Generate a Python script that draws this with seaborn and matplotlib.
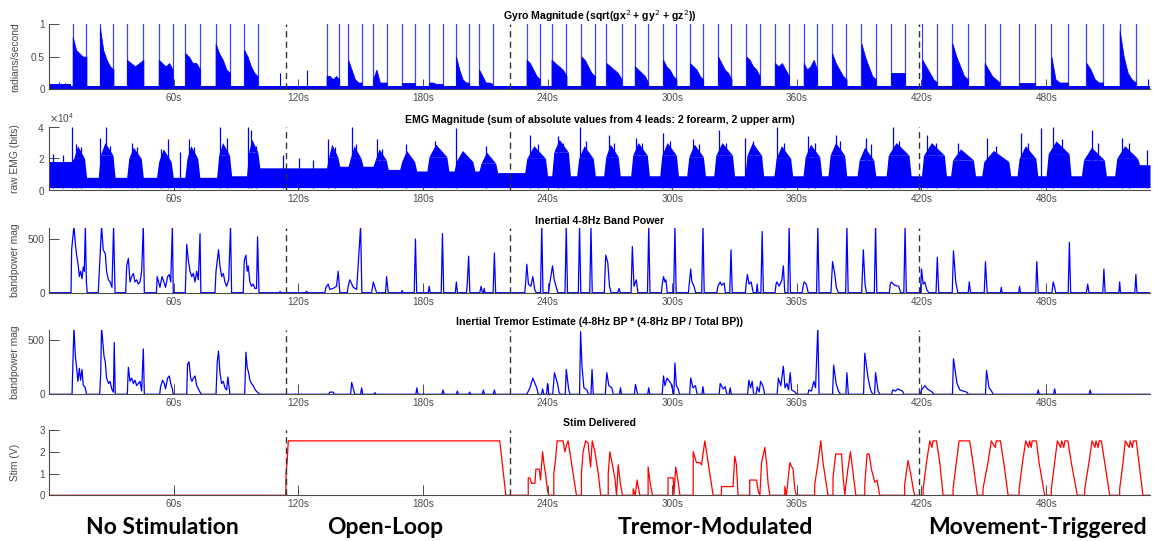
import numpy as np
import pandas as pd
import matplotlib
matplotlib.use("Agg")
import matplotlib.pyplot as plt
import matplotlib.transforms as mtransforms
from matplotlib.ticker import ScalarFormatter
import seaborn as sns

# ------------------------------------------------------------------
# Session data (time in seconds)
# ------------------------------------------------------------------
phase_bounds_s = [114.0, 222.0, 419.0]
phase_names = ["No Stimulation", "Open-Loop", "Tremor-Modulated", "Movement-Triggered"]

time_ticks_s = [60, 120, 180, 240, 300, 360, 420, 480]
time_tick_labels = ["60s", "120s", "180s", "240s", "300s", "360s", "420s", "480s"]

# Gyro magnitude: movement bouts, each opened and closed by a saturating burst,
# with the dense gyro trace level sampled across the bout (rad/s)
gyro_bout_start = [11.4, 24.5, 37.5, 52.8, 65.6, 80.2, 94.0, 133.6, 144.0, 156.0,
                   169.7, 183.0, 195.9, 207.0, 229.9, 241.9, 256.3, 268.3, 282.0, 295.6,
                   308.5, 322.1, 335.7, 349.4, 363.3, 377.0, 391.1, 405.2, 420.4, 434.9,
                   450.4, 466.9, 482.5, 499.4, 515.4]
gyro_bout_end = [18.0, 31.0, 45.4, 59.5, 72.7, 87.1, 100.4, 139.7, 150.5, 162.5,
                 176.1, 189.5, 202.3, 213.5, 236.3, 249.1, 262.7, 275.6, 288.4, 302.0,
                 314.9, 328.5, 342.1, 356.2, 369.7, 383.9, 398.0, 411.9, 427.5, 442.4,
                 457.6, 474.5, 490.5, 507.4, 523.1]
gyro_bout_levels = [
    [0.80, 0.60, 0.55, 0.50, 0.50], [0.95, 0.60, 0.45, 0.35, 0.30],
    [0.45, 0.40, 0.35, 0.40, 0.45], [0.45, 0.40, 0.35, 0.40, 0.30],
    [0.55, 0.50, 0.40, 0.40, 0.30], [0.70, 0.55, 0.45, 0.30, 0.25],
    [0.60, 0.50, 0.35, 0.25, 0.20], [0.20, 0.20, 0.15, 0.20, 0.15],
    [0.45, 0.30, 0.15, 0.10, 0.10], [0.15, 0.30, 0.10, 0.10, 0.10],
    [0.10, 0.10, 0.10, 0.10, 0.10], [0.10, 0.10, 0.08, 0.08, 0.08],
    [0.50, 0.30, 0.15, 0.10, 0.10], [0.30, 0.20, 0.10, 0.10, 0.08],
    [0.45, 0.40, 0.30, 0.20, 0.15], [0.45, 0.40, 0.35, 0.30, 0.20],
    [0.50, 0.45, 0.35, 0.25, 0.20], [0.40, 0.35, 0.30, 0.25, 0.15],
    [0.35, 0.30, 0.25, 0.20, 0.10], [0.45, 0.35, 0.30, 0.20, 0.15],
    [0.40, 0.35, 0.30, 0.20, 0.15], [0.50, 0.40, 0.30, 0.25, 0.15],
    [0.50, 0.45, 0.35, 0.30, 0.20], [0.40, 0.35, 0.40, 0.30, 0.20],
    [0.40, 0.30, 0.35, 0.45, 0.30], [0.55, 0.40, 0.30, 0.20, 0.15],
    [0.70, 0.50, 0.35, 0.20, 0.15], [0.25, 0.25, 0.25, 0.25, 0.25],
    [0.45, 0.35, 0.25, 0.15, 0.10], [0.70, 0.50, 0.35, 0.20, 0.15],
    [0.40, 0.30, 0.20, 0.15, 0.10], [0.10, 0.10, 0.10, 0.10, 0.10],
    [0.50, 0.15, 0.10, 0.10, 0.10], [0.40, 0.30, 0.15, 0.10, 0.10],
    [0.90, 0.50, 0.25, 0.15, 0.10],
]
gyro_burst_peak = 1.2          # saturating bursts run past the 1 rad/s axis limit
gyro_rest_t = [0.0, 10.6, 10.6, 530.0]
gyro_rest_v = [0.07, 0.07, 0.04, 0.04]
gyro_blip_t = [5.0, 7.5, 111.2, 124.0, 528.9]
gyro_blip_v = [0.11, 0.10, 0.25, 0.30, 0.15]

# EMG magnitude (x1e4 bits): muscle bursts (dense core and ragged peak)
# and the resting band between them
emg_burst_start = [10.9, 23.7, 37.4, 51.8, 65.4, 80.7, 95.1, 133.6, 144.0, 156.0,
                   168.8, 181.9, 195.0, 207.0, 229.0, 242.0, 254.0, 267.0, 280.0, 294.0,
                   307.0, 320.0, 335.0, 349.0, 363.0, 375.0, 389.0, 403.0, 420.0, 434.0,
                   449.0, 466.0, 480.0, 497.0, 513.0]
emg_burst_end = [18.1, 31.8, 45.4, 59.8, 72.6, 87.9, 101.5, 140.0, 151.2, 163.3,
                 177.0, 192.5, 205.0, 216.0, 240.0, 251.0, 263.0, 275.0, 289.0, 303.0,
                 316.0, 330.0, 344.0, 358.0, 372.0, 384.0, 398.0, 415.0, 432.0, 446.0,
                 463.0, 476.0, 492.0, 509.0, 525.0]
emg_burst_core_x1e4 = [2.0, 2.2, 2.0, 1.8, 2.0, 2.2, 2.4, 2.1, 2.0, 1.9,
                       1.8, 2.1, 1.8, 1.7, 2.0, 2.4, 2.0, 2.1, 2.2, 2.2,
                       2.1, 2.2, 2.2, 2.0, 2.1, 2.2, 1.9, 2.2, 2.2, 1.9,
                       1.8, 2.0, 2.3, 1.9, 2.0]
emg_burst_peak_x1e4 = [2.8, 3.0, 2.7, 2.6, 2.8, 3.0, 3.2, 2.9, 2.8, 2.6,
                       2.5, 2.9, 2.5, 2.4, 2.8, 3.2, 2.8, 2.9, 3.0, 3.0,
                       2.9, 3.0, 3.0, 2.8, 2.9, 3.0, 2.7, 3.0, 3.0, 2.6,
                       2.5, 2.8, 3.1, 2.7, 2.8]
emg_gap_level_x1e4 = [1.8, 0.8, 0.8, 0.8, 0.8, 0.8, 0.9, 1.4, 1.5, 1.5,
                      1.3, 1.2, 1.2, 1.2, 1.1, 0.9, 0.9, 0.9, 0.9, 0.9,
                      0.9, 0.9, 0.9, 0.9, 0.9, 0.9, 0.9, 0.9, 0.9, 0.9,
                      0.9, 0.9, 0.9, 0.9, 0.9, 1.6]
emg_floor_x1e4 = 0.15
emg_spike_t = [2.0, 6.5, 11.2, 13.0, 15.5, 24.5, 27.4, 29.5, 39.8, 42.5, 54.0, 57.1, 63.0,
               67.5, 70.0, 82.3, 85.5, 95.9, 97.1, 99.5, 112.8, 120.5, 127.0, 134.4, 137.5,
               145.7, 148.0, 157.7, 160.5, 172.0, 186.0, 196.1, 210.5, 231.7, 235.5, 244.8,
               247.5, 255.4, 258.5, 269.7, 272.0, 282.7, 285.5, 295.8, 299.0, 310.0, 313.0,
               322.6, 326.0, 335.0, 339.0, 350.4, 354.0, 365.4, 368.5, 378.9, 381.0, 393.1,
               395.5, 406.2, 409.0, 422.8, 427.0, 437.5, 451.3, 456.0, 467.9, 471.5, 477.6,
               483.4, 487.5, 502.3, 505.0, 516.6, 520.0, 528.5]
emg_spike_x1e4 = [2.3, 2.2, 4.0, 2.9, 2.7, 3.3, 4.0, 2.8, 3.0, 2.7, 2.6, 3.2, 2.4,
                  3.2, 2.7, 4.0, 3.3, 4.0, 3.8, 2.8, 2.2, 2.0, 1.9, 3.2, 2.7,
                  4.0, 2.9, 3.2, 2.6, 2.9, 3.1, 3.9, 2.8, 3.5, 2.9, 3.4,
                  3.0, 4.0, 3.1, 3.5, 3.0, 3.3, 3.0, 3.6, 3.1, 3.2, 2.9,
                  3.8, 3.0, 3.3, 3.1, 4.0, 3.0, 3.4, 3.0, 3.5, 3.1, 3.3,
                  2.9, 4.0, 3.1, 3.5, 3.0, 3.0, 3.3, 2.8, 3.6, 3.0, 3.9,
                  4.0, 3.2, 3.8, 3.0, 3.3, 3.0, 2.5]

# Inertial 4-8 Hz band power (time s, magnitude)
bandpower_pts = [
    (0, 0), (10.6, 0), (10.9, 400), (11.4, 500), (12.0, 620), (12.7, 450), (13.3, 350), (14.1, 250),
    (14.6, 150), (15.2, 200), (15.9, 130), (16.5, 240), (17.0, 200), (17.5, 620), (18.0, 100), (18.4, 0),
    (23.7, 0), (24.1, 150), (24.5, 300), (25.3, 620), (26.1, 400), (27.1, 365), (27.7, 200), (28.6, 120),
    (29.4, 100), (30.3, 50), (31.1, 620), (31.8, 0),
    (36.9, 0), (37.4, 250), (38.2, 320), (39.0, 100), (39.8, 150), (40.6, 180), (41.4, 100), (42.2, 120),
    (43.0, 80), (43.8, 100), (44.6, 200), (45.4, 620), (45.9, 0),
    (51.7, 0), (52.1, 150), (53.4, 50), (54.4, 150), (55.3, 100), (56.1, 50), (57.1, 150), (57.9, 170),
    (58.6, 100), (59.4, 620), (59.8, 0),
    (65.6, 0), (66.3, 450), (67.1, 300), (67.9, 200), (68.7, 150), (69.5, 180), (70.3, 100), (71.1, 200),
    (71.9, 120), (72.7, 550), (73.1, 0),
    (79.9, 0), (80.4, 200), (81.0, 300), (81.6, 400), (82.3, 250), (83.1, 150), (83.9, 180), (84.7, 100),
    (85.5, 60), (86.5, 120), (87.4, 620), (87.9, 0),
    (93.5, 0), (94.0, 300), (94.8, 350), (95.4, 200), (95.9, 250), (96.7, 100), (97.5, 60), (98.3, 80),
    (99.1, 40), (99.9, 40), (100.4, 520), (101.1, 0),
    (110.8, 0), (111.2, 10), (111.6, 0), (123.6, 0), (124.0, 15), (124.4, 0),
    (132.8, 0), (133.3, 50), (134.4, 80), (135.2, 30), (136.8, 40), (138.4, 60), (139.2, 200), (140.0, 0),
    (143.6, 0), (144.0, 60), (144.8, 120), (146.5, 50), (148.1, 30), (150.0, 620), (150.6, 0),
    (155.3, 0), (156.1, 100), (156.9, 50), (157.7, 0), (162.0, 0), (162.5, 150), (163.3, 0),
    (169.6, 0), (170.0, 20), (170.4, 0), (175.8, 0), (176.4, 500), (177.0, 0),
    (182.6, 0), (183.0, 60), (183.5, 0), (188.8, 0), (189.4, 550), (190.0, 0),
    (195.6, 0), (196.1, 100), (196.6, 0), (201.0, 0), (201.4, 100), (202.0, 340), (202.6, 0),
    (207.4, 0), (208.0, 60), (208.6, 0), (209.1, 0), (209.5, 40), (209.9, 0),
    (213.8, 0), (214.4, 370), (215.0, 0),
    (229.0, 0), (229.5, 100), (230.0, 265), (230.8, 80), (232.0, 60), (232.9, 150), (233.8, 30), (234.5, 0),
    (236.6, 0), (237.2, 620), (237.8, 0),
    (240.5, 0), (241.0, 80), (242.4, 250), (243.2, 120), (244.5, 30), (245.0, 0), (248.4, 0), (249.0, 620), (249.6, 0),
    (254.8, 0), (255.4, 620), (256.0, 0), (260.3, 0), (260.9, 620), (261.5, 0),
    (267.3, 0), (268.0, 350), (269.0, 280), (269.8, 60), (270.6, 0), (273.8, 0), (274.4, 40), (275.0, 0),
    (280.2, 0), (280.8, 430), (281.6, 60), (282.7, 120), (283.5, 0), (288.1, 0), (288.7, 620), (289.3, 0),
    (294.8, 0), (295.2, 80), (295.8, 150), (296.5, 100), (297.0, 120), (297.6, 0), (300.7, 0), (301.3, 620), (301.9, 0),
    (307.8, 0), (308.3, 100), (308.9, 220), (309.5, 100), (310.5, 60), (311.3, 0), (314.2, 0), (314.8, 620), (315.4, 0),
    (321.5, 0), (322.0, 60), (323.1, 100), (323.8, 70), (325.0, 90), (325.6, 0), (327.7, 0), (328.3, 400), (328.9, 0),
    (335.2, 0), (335.7, 100), (336.2, 170), (337.0, 80), (338.0, 100), (339.0, 0), (340.5, 0), (340.9, 80), (341.3, 0),
    (342.7, 0), (343.3, 570), (343.9, 0),
    (349.5, 0), (350.0, 80), (350.4, 100), (351.5, 60), (352.8, 120), (353.5, 250), (354.2, 0), (355.7, 0), (356.3, 620), (356.9, 0),
    (362.5, 0), (363.0, 60), (363.5, 100), (364.5, 80), (365.5, 0), (369.5, 0), (370.1, 620), (370.7, 0),
    (376.4, 0), (377.2, 290), (378.2, 180), (379.0, 50), (380.0, 0), (383.5, 0), (384.1, 620), (384.7, 0),
    (391.2, 0), (392.0, 400), (392.8, 80), (393.5, 0), (397.3, 0), (397.9, 620), (398.5, 0),
    (404.5, 0), (405.0, 80), (405.5, 100), (407.0, 70), (409.0, 60), (410.0, 0), (411.5, 0), (412.1, 620), (412.7, 0),
    (419.5, 0), (420.0, 220), (420.8, 80), (421.6, 100), (422.5, 30), (423.5, 0), (427.0, 0), (427.6, 330), (428.3, 0),
    (434.8, 0), (435.4, 390), (436.5, 100), (437.5, 0), (442.5, 0), (443.0, 100), (443.6, 0),
    (450.2, 0), (450.8, 290), (451.6, 0), (458.0, 0), (458.4, 50), (458.8, 0),
    (466.8, 0), (467.2, 60), (467.6, 0), (475.0, 0), (475.5, 290), (476.2, 0),
    (482.8, 0), (483.4, 100), (484.0, 60), (484.6, 0),
    (490.6, 0), (491.2, 470), (491.8, 0), (499.4, 0), (500.0, 80), (500.6, 0), (507.3, 0), (507.8, 220), (508.4, 0),
    (515.0, 0), (515.4, 100), (515.8, 0), (522.7, 0), (523.2, 170), (523.7, 0), (530.0, 0),
]

# Inertial tremor estimate (time s, magnitude)
tremor_pts = [
    (0, 0), (11.1, 0), (11.4, 220), (12.0, 620), (12.7, 350), (13.3, 250), (13.9, 120), (14.6, 240),
    (15.2, 130), (15.9, 230), (16.5, 80), (17.3, 70), (18.1, 0),
    (24.4, 0), (24.9, 200), (25.3, 620), (26.5, 350), (27.1, 300), (27.7, 150), (28.7, 100), (29.4, 120),
    (30.2, 50), (31.0, 20), (31.4, 480), (31.9, 0),
    (37.7, 0), (38.2, 250), (39.0, 120), (39.8, 150), (40.6, 100), (41.4, 130), (42.2, 80), (43.0, 100),
    (43.8, 120), (44.6, 30), (45.4, 420), (45.9, 0),
    (53.3, 0), (53.7, 70), (54.7, 130), (55.5, 100), (56.1, 50), (57.1, 150), (57.9, 170), (58.6, 100),
    (59.4, 50), (59.8, 0),
    (66.3, 0), (66.7, 280), (67.4, 300), (68.2, 150), (68.8, 120), (69.5, 150), (70.3, 170), (71.1, 80),
    (71.9, 50), (72.7, 20), (73.5, 0),
    (80.4, 0), (81.0, 300), (81.6, 400), (82.3, 200), (83.1, 100), (83.9, 120), (84.7, 60), (85.5, 40),
    (86.1, 160), (87.1, 0),
    (94.2, 0), (94.8, 390), (95.4, 250), (96.1, 200), (96.7, 130), (97.5, 100), (98.3, 80), (99.3, 40),
    (100.3, 20), (101.5, 0),
    (134.6, 0), (135.2, 20), (136.8, 20), (137.4, 0), (145.2, 0), (145.7, 110), (146.5, 50), (147.2, 0),
    (150.0, 0), (150.5, 60), (151.0, 0), (156.4, 0), (156.9, 15), (157.4, 0),
    (176.6, 0), (177.1, 60), (177.6, 0), (189.2, 0), (189.7, 40), (190.2, 0), (196.1, 0), (196.6, 30), (197.1, 0),
    (202.0, 0), (202.5, 20), (203.0, 0), (208.6, 0), (209.1, 40), (209.6, 0), (213.9, 0), (214.4, 40), (214.9, 0),
    (230.0, 0), (230.5, 20), (231.5, 60), (232.9, 150), (234.8, 60), (235.5, 0), (237.1, 0), (237.6, 50), (238.2, 0),
    (239.5, 0), (240.0, 100), (240.6, 0), (242.5, 0), (243.3, 200), (244.8, 100), (245.5, 20), (246.2, 0),
    (248.5, 0), (249.0, 230), (250.2, 40), (250.8, 0),
    (255.4, 0), (255.9, 580), (256.6, 250), (257.5, 60), (259.0, 40), (259.6, 0), (260.9, 0), (261.4, 230), (262.0, 0),
    (267.8, 0), (268.5, 200), (269.5, 80), (270.9, 60), (271.6, 0), (274.6, 0), (275.1, 60), (275.6, 0),
    (281.8, 0), (282.3, 90), (282.7, 60), (283.3, 0), (288.2, 0), (288.7, 60), (289.2, 0),
    (295.2, 0), (295.8, 170), (296.5, 80), (297.5, 150), (299.4, 100), (300.8, 0), (301.3, 290), (302.0, 80),
    (302.9, 50), (303.5, 0),
    (308.4, 0), (308.9, 150), (310.0, 60), (311.2, 80), (312.0, 0), (314.3, 0), (314.8, 70), (315.3, 0),
    (322.6, 0), (323.1, 100), (324.5, 50), (325.5, 70), (326.3, 0), (327.4, 0), (327.9, 60), (328.4, 0),
    (336.3, 0), (336.9, 130), (337.7, 60), (338.5, 120), (339.2, 0), (340.4, 0), (340.9, 70), (341.8, 20),
    (342.6, 120), (343.8, 70), (344.5, 0),
    (350.5, 0), (351.1, 150), (352.3, 80), (353.5, 260), (354.3, 60), (355.2, 100), (356.0, 40), (356.8, 200),
    (357.5, 40), (359.2, 20), (360.0, 0),
    (365.3, 0), (365.8, 40), (367.0, 30), (368.2, 120), (369.0, 60), (370.1, 620), (370.7, 0),
    (377.2, 0), (377.7, 270), (378.9, 100), (380.0, 30), (381.0, 0), (383.6, 0), (384.1, 200), (384.8, 0),
    (392.1, 0), (392.7, 380), (394.3, 150), (395.5, 40), (396.5, 0), (397.4, 0), (397.9, 200), (399.1, 30), (400.0, 0),
    (405.5, 0), (406.2, 40), (407.5, 30), (408.6, 50), (409.8, 40), (410.9, 30), (411.5, 0),
    (419.5, 0), (420.0, 40), (421.6, 80), (422.8, 50), (425.2, 20), (426.0, 0),
    (434.9, 0), (435.4, 330), (437.1, 100), (438.5, 40), (441.8, 20), (442.5, 0),
    (450.8, 0), (451.3, 220), (452.5, 60), (453.7, 30), (454.5, 0),
    (475.7, 0), (476.2, 40), (476.7, 0), (483.6, 0), (484.1, 50), (484.6, 0), (500.7, 0), (501.2, 40), (501.7, 0),
    (530.0, 0),
]

# Stimulation amplitude delivered (time s, volts)
stim_pts = [
    (0, 0), (114.0, 0), (114.1, 1.0), (114.6, 1.5), (115.2, 2.5), (217.0, 2.5), (219.9, 0),
    (230.7, 0), (230.7, 0.8), (231.5, 0.8), (232.3, 0.55), (233.9, 0.55), (234.4, 1.2), (236.0, 1.2),
    (236.6, 0.7), (237.6, 2.0), (238.2, 1.5), (239.0, 1.0), (240.0, 0.2), (240.6, 0),
    (243.0, 0), (243.0, 1.0), (243.8, 1.6), (244.6, 2.5), (247.5, 2.5), (248.3, 2.0), (249.1, 2.3),
    (249.9, 2.5), (250.7, 2.0), (252.3, 1.0), (253.9, 0),
    (256.3, 0), (256.3, 1.0), (257.1, 2.0), (258.3, 2.5), (259.5, 2.4), (260.7, 1.3), (261.5, 2.5),
    (262.8, 2.0), (264.4, 1.0), (265.6, 0),
    (269.2, 0), (269.2, 1.0), (270.0, 2.0), (270.8, 1.6), (272.4, 0.8), (273.2, 0), (274.0, 1.4),
    (275.1, 0.5), (276.1, 0),
    (281.2, 0), (281.2, 0.3), (282.2, 0), (283.1, 0.7), (284.4, 0),
    (288.4, 0), (288.4, 1.3), (289.5, 0.5), (290.5, 0),
    (298.0, 0), (298.0, 0.8), (300.5, 0.8), (300.8, 0), (301.7, 1.3), (302.9, 0.6), (303.7, 0),
    (310.1, 0), (310.1, 2.0), (311.7, 1.5), (313.3, 1.5), (314.1, 1.4), (315.7, 2.5), (316.5, 2.0),
    (318.1, 1.0), (319.7, 0),
    (323.7, 0), (323.7, 0.4), (329.3, 0.4), (330.1, 1.8), (330.9, 1.4), (331.7, 0),
    (337.3, 0), (337.3, 0.7), (340.6, 0.7), (341.4, 0.2), (342.2, 0), (343.0, 1.5), (344.6, 2.2),
    (345.4, 1.5), (346.2, 0.5), (347.0, 0),
    (354.2, 0), (354.2, 0.4), (355.0, 0), (356.6, 1.5), (358.2, 1.2), (359.0, 0.3), (359.8, 0),
    (368.6, 0), (368.6, 0.5), (370.2, 1.5), (371.5, 2.5), (372.6, 1.5), (374.2, 0.5), (375.0, 0),
    (377.4, 0), (377.4, 0.8), (378.7, 1.9), (381.5, 1.9), (382.3, 0.8), (383.1, 0), (383.5, 0.4),
    (384.7, 1.3), (385.8, 2.0), (387.1, 1.0), (388.4, 0),
    (392.7, 0), (392.7, 0.5), (393.8, 1.9), (394.8, 1.9), (395.9, 1.2), (397.5, 0.6), (398.6, 0.7), (399.9, 0),
    (411.9, 0), (411.9, 0.5), (413.5, 1.6), (414.8, 1.0), (416.0, 0.3), (416.7, 0),
    (420.8, 0), (420.8, 0.3), (422.4, 1.5), (424.0, 2.5), (425.0, 2.2), (425.6, 2.5), (427.2, 2.5),
    (428.8, 1.5), (430.4, 0),
    (435.2, 0), (435.2, 0.3), (436.8, 1.5), (438.1, 2.5), (443.2, 2.5), (444.8, 1.5), (446.9, 0),
    (449.6, 0), (449.6, 0.3), (452.0, 1.5), (453.6, 2.5), (455.5, 2.2), (456.0, 2.5), (458.0, 2.5),
    (459.6, 1.5), (461.7, 0),
    (467.0, 0), (467.0, 0.3), (468.6, 1.5), (470.2, 2.5), (471.5, 2.2), (472.0, 2.5), (472.8, 2.2),
    (473.3, 2.5), (475.3, 2.5), (476.6, 1.5), (479.3, 0),
    (482.5, 0), (482.5, 0.3), (484.1, 1.5), (485.4, 2.5), (487.0, 2.2), (487.5, 2.5), (488.5, 2.2),
    (489.0, 2.5), (490.5, 2.5), (492.1, 1.5), (495.0, 0),
    (498.6, 0), (498.6, 0.3), (500.6, 1.5), (502.1, 2.5), (503.5, 2.2), (504.0, 2.5), (505.0, 2.2),
    (505.5, 2.5), (506.6, 2.5), (508.2, 1.5), (510.6, 0),
    (515.4, 0), (515.4, 0.3), (517.0, 1.5), (518.1, 2.5), (520.0, 2.2), (520.5, 2.5), (521.5, 2.2),
    (522.0, 2.5), (523.4, 2.5), (524.7, 1.5), (526.6, 0), (530.0, 0),
]

# ------------------------------------------------------------------
# Figure
# ------------------------------------------------------------------
sns.set_theme(style="ticks")
plt.rcParams["font.family"] = ["Liberation Sans", "DejaVu Sans"]

W, H = 1153, 541
fig = plt.figure(figsize=(W / 100, H / 100), dpi=100)
fig.patch.set_facecolor("white")

AX_LEFT, AX_RIGHT = 49, 1150
panel_rows = [(24.3, 89.0), (126.7, 190.0), (228.3, 292.7), (329.5, 394.3), (430.0, 495.3)]
axes = [fig.add_axes([AX_LEFT / W, 1 - bot / H, (AX_RIGHT - AX_LEFT) / W, (bot - top) / H])
        for top, bot in panel_rows]
ax_gyro, ax_emg, ax_bp, ax_tr, ax_stim = axes

grey = "#4a4a4a"
blue = "#0000ff"
red = "#ff0000"
T_END = 530


def style_axis(ax, ylim, yticks, yticklabels, ylabel, title):
    ax.set_facecolor("white")
    ax.set_xlim(0, T_END)
    ax.set_ylim(*ylim)
    ax.set_xticks(time_ticks_s)
    ax.set_xticklabels(time_tick_labels)
    ax.set_yticks(yticks)
    if yticklabels is not None:
        ax.set_yticklabels(yticklabels)
    for s in ("top", "right"):
        ax.spines[s].set_visible(False)
    for s in ("left", "bottom"):
        ax.spines[s].set_color(grey)
        ax.spines[s].set_linewidth(0.8)
    ax.tick_params(direction="in", length=7, width=0.7, colors=grey, labelsize=7.2, pad=3)
    ax.set_xlabel("")
    ax.set_ylabel(ylabel, fontsize=7.4, color=grey)
    ax.yaxis.set_label_coords(-0.026, 0.5)
    ax.set_title(title, fontsize=7.6, fontweight="bold", color="black", pad=3)
    for b in phase_bounds_s:
        ax.axvline(b, color="0.2", lw=1.0, ls=(0, (4.5, 3)), zorder=4)


# --- Gyro magnitude ---
ax_gyro.fill_between(gyro_rest_t, 0.005, gyro_rest_v, color=blue, lw=0, zorder=2)
for ts, te, lv in zip(gyro_bout_start, gyro_bout_end, gyro_bout_levels):
    tt = np.linspace(ts, te, len(lv))
    ax_gyro.fill_between(tt, 0.005, lv, color=blue, lw=0.6, edgecolor=blue, zorder=2)
ax_gyro.vlines(gyro_bout_start + gyro_bout_end, 0.02, gyro_burst_peak,
               color=blue, lw=0.9, alpha=0.75, zorder=2)
ax_gyro.vlines(gyro_blip_t, 0.02, gyro_blip_v, color=blue, lw=0.8, zorder=2)
style_axis(ax_gyro, (0, 1), [0, 0.5, 1], ["0", "0.5", "1"], "radians/second",
           "Gyro Magnitude (sqrt(gx$^2$ + gy$^2$ + gz$^2$))")

# --- EMG magnitude: resting band, dense burst cores, peaked burst tops, spikes ---
emg_t, emg_hi = [0.0], [emg_gap_level_x1e4[0]]
for i, (ts, te, core) in enumerate(zip(emg_burst_start, emg_burst_end, emg_burst_core_x1e4)):
    emg_t += [ts, ts + 1.0, te - 1.0, te]
    emg_hi += [emg_gap_level_x1e4[i], core, core, emg_gap_level_x1e4[i + 1]]
emg_t.append(T_END)
emg_hi.append(emg_gap_level_x1e4[-1])
emg_df = pd.DataFrame({"t": emg_t, "hi": np.array(emg_hi) * 1e4})
ax_emg.fill_between(emg_df["t"], emg_floor_x1e4 * 1e4, emg_df["hi"], color=blue, lw=0, zorder=2)
for ts, te, core, pk in zip(emg_burst_start, emg_burst_end, emg_burst_core_x1e4,
                            emg_burst_peak_x1e4):
    ax_emg.fill_between([ts + 1.0, ts + 0.4 * (te - ts), te - 1.0],
                        [core * 1e4] * 3, [core * 1e4, pk * 1e4, core * 1e4],
                        color=blue, lw=0, zorder=2)
ax_emg.vlines(emg_spike_t, emg_floor_x1e4 * 1e4, np.array(emg_spike_x1e4) * 1e4,
              color=blue, lw=0.9, zorder=2)
style_axis(ax_emg, (0, 4e4), [0, 2e4, 4e4], None, "raw EMG (bits)",
           "EMG Magnitude (sum of absolute values from 4 leads: 2 forearm, 2 upper arm)")
fmt = ScalarFormatter(useMathText=True)
fmt.set_powerlimits((0, 0))
ax_emg.yaxis.set_major_formatter(fmt)
ax_emg.yaxis.get_offset_text().set_fontsize(7.2)
ax_emg.yaxis.get_offset_text().set_color(grey)

# --- Band power and tremor estimate ---
bp_df = pd.DataFrame(bandpower_pts, columns=["t", "v"])
sns.lineplot(data=bp_df, x="t", y="v", ax=ax_bp, color=blue, lw=0.9,
             sort=False, estimator=None)
style_axis(ax_bp, (0, 600), [0, 500], ["0", "500"], "bandpower mag",
           "Inertial 4-8Hz Band Power")

tr_df = pd.DataFrame(tremor_pts, columns=["t", "v"])
sns.lineplot(data=tr_df, x="t", y="v", ax=ax_tr, color=blue, lw=0.9,
             sort=False, estimator=None)
style_axis(ax_tr, (0, 600), [0, 500], ["0", "500"], "bandpower mag",
           "Inertial Tremor Estimate (4-8Hz BP * (4-8Hz BP / Total BP))")

# --- Stimulation ---
st_df = pd.DataFrame(stim_pts, columns=["t", "v"])
sns.lineplot(data=st_df, x="t", y="v", ax=ax_stim, color=red, lw=0.9,
             sort=False, estimator=None)
style_axis(ax_stim, (0, 3), [0, 1, 2, 3], ["0", "1", "2", "3"], "Stim (V)", "Stim Delivered")

# Phase names under the time axis
label_tf = mtransforms.blended_transform_factory(ax_stim.transData, fig.transFigure)
for name, tc in zip(phase_names, [54.4, 161.7, 320.7, 476.0]):
    fig.text(tc, 1 - 534 / H, name, transform=label_tf, ha="center", va="baseline",
             fontsize=16.5, fontweight="bold", family=["Lato", "DejaVu Sans"], color="black")

fig.savefig("out.png", dpi=100, facecolor="white")
